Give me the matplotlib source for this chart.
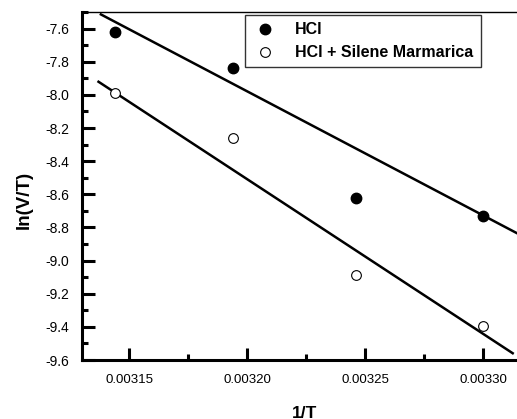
import numpy as np
import matplotlib
matplotlib.use("Agg")
import matplotlib.pyplot as plt
from matplotlib.ticker import MultipleLocator

plt.rcParams['font.family'] = ['Liberation Sans', 'DejaVu Sans']

inv_T = [0.003144, 0.003194, 0.003246, 0.003300]
ln_hcl = [-7.62, -7.84, -8.62, -8.73]
ln_silene = [-7.99, -8.26, -9.09, -9.395]
labels = ['HCl', 'HCl + Silene Marmarica']
# fitted lines as drawn in the original: slope, intercept, x start
fit_hcl = (-7489.0, 15.986, 0.003138)
fit_silene = (-9335.0, 21.363, 0.003137)
xticks = [0.00315, 0.00320, 0.00325, 0.00330]
yticks = [-9.6, -9.4, -9.2, -9.0, -8.8, -8.6, -8.4, -8.2, -8.0, -7.8, -7.6]

W, H = 517, 419
fig = plt.figure(figsize=(W / 100, H / 100), dpi=100)
left, bottom, top = 82 / W, (H - 360) / H, (H - 12) / H
xmin, xmax = 0.00313, 0.00332
px_per_unit = 118 / 0.00005
width = (xmax - xmin) * px_per_unit / W
ax = fig.add_axes([left, bottom, width, top - bottom])

ax.plot(inv_T, ln_hcl, 'o', color='black', markersize=7.5, label=labels[0], zorder=3)
ax.plot(inv_T, ln_silene, 'o', markerfacecolor='white', markeredgecolor='black',
        markeredgewidth=0.8, markersize=7, label=labels[1], zorder=3)

for slope, icpt, x0 in [fit_hcl, fit_silene]:
    xs = np.array([x0, 0.0033125 if slope < -9000 else 0.00333])
    ax.plot(xs, slope * xs + icpt, color='black', lw=1.8, zorder=2)

ax.set_xlim(xmin, xmax)
ax.set_ylim(-9.6, -7.5)
ax.set_xticks(xticks)
ax.set_xticklabels([f'{v:.5f}' for v in xticks])
ax.set_yticks(yticks)
ax.set_yticklabels([f'{v:.1f}' for v in yticks])
ax.xaxis.set_minor_locator(MultipleLocator(0.000025))
ax.yaxis.set_minor_locator(MultipleLocator(0.1))
ax.tick_params(axis='both', which='major', direction='in', length=9, width=2.2,
               labelsize=9.5, pad=10)
ax.tick_params(axis='y', which='major', labelsize=10, pad=9)
ax.tick_params(axis='both', which='minor', direction='in', length=4.5, width=2.2)
ax.tick_params(top=False, right=False, which='both')
for s in ['left', 'bottom']:
    ax.spines[s].set_linewidth(2.2)
ax.spines['top'].set_linewidth(1.0)
ax.spines['right'].set_visible(False)

fig.text(24 / W, 1 - 200 / H, 'ln(V/T)', rotation=90, fontsize=13.5, fontweight='bold',
         ha='center', va='center')
fig.text(305 / W, 1 - 413 / H, '1/T', fontsize=12.5, fontweight='bold',
         ha='center', va='center')

leg = ax.legend(loc='upper left', bbox_to_anchor=(245 / W, 1 - 15 / H),
                bbox_transform=fig.transFigure, frameon=True, fancybox=False,
                edgecolor='black', prop={'weight': 'bold', 'size': 11.5},
                borderpad=0.45, handletextpad=1.1, labelspacing=0.5,
                handlelength=1.6, borderaxespad=0)
leg.get_frame().set_linewidth(1.0)

fig.savefig('out.png', dpi=100)
